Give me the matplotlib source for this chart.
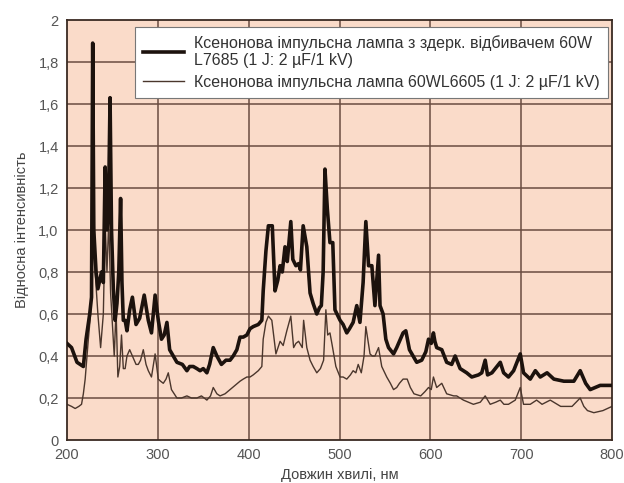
import numpy as np
import matplotlib
matplotlib.use('Agg')
import matplotlib.pyplot as plt
from matplotlib.ticker import FuncFormatter

# lamp with reflector (thick line)
wl_reflector = [200, 205, 211, 218, 221, 225, 227, 228.3, 229.5, 232, 234, 236, 238, 240,
                242, 244, 245.5, 247.4, 249, 251, 253, 255, 257, 259, 260.5, 262, 264,
                266, 269, 272, 276, 280, 285, 289.5, 293, 297, 300.5, 304, 307, 310, 313,
                317, 321, 327, 332, 335, 339, 343, 346.5, 350, 354, 357, 361, 365, 370,
                375, 379.5, 383, 387, 390.5, 394, 398, 401.5, 405, 410.6, 414.5, 416, 419,
                421.7, 426, 429, 432, 434.6, 437, 440, 442.5, 446.4, 448.6, 452, 455, 457,
                460, 464, 467.6, 471, 475, 478, 480, 482, 484, 486.6, 489.5, 492.6, 495,
                500.6, 504, 508, 511, 515, 519, 522.5, 526, 529, 532, 535.6, 539, 543,
                544.6, 548, 551, 554, 559.5, 563, 567, 570, 573, 577, 581, 585, 590.5, 595,
                598, 601, 603.4, 605, 607, 612.6, 618, 623.5, 627.3, 632.8, 640, 645.6, 653,
                656.6, 660.4, 663, 667.8, 673.3, 677, 680.7, 686, 691.7, 699, 702.6, 710,
                715.6, 721, 728.5, 736, 747, 758, 765, 771, 776, 787, 800]
int_reflector = [0.46, 0.44, 0.37, 0.35, 0.48, 0.60, 0.68, 1.89, 1.00, 0.80, 0.72, 0.76, 0.80,
                 0.75, 1.30, 1.00, 1.05, 1.63, 1.00, 0.72, 0.57, 0.65, 0.80, 1.15, 0.75,
                 0.57, 0.57, 0.52, 0.62, 0.68, 0.55, 0.58, 0.69, 0.57, 0.51, 0.69, 0.57,
                 0.48, 0.50, 0.56, 0.43, 0.40, 0.37, 0.36, 0.33, 0.35, 0.35, 0.34, 0.33,
                 0.34, 0.32, 0.36, 0.44, 0.40, 0.36, 0.38, 0.38, 0.40, 0.43, 0.49, 0.49,
                 0.50, 0.53, 0.54, 0.55, 0.57, 0.71, 0.90, 1.02, 1.02, 0.71, 0.76, 0.83,
                 0.80, 0.92, 0.85, 1.04, 0.86, 0.83, 0.84, 0.81, 1.02, 0.92, 0.70, 0.65,
                 0.60, 0.63, 0.64, 0.80, 1.29, 1.10, 0.94, 0.94, 0.62, 0.57, 0.55, 0.51,
                 0.53, 0.56, 0.64, 0.56, 0.75, 1.04, 0.83, 0.83, 0.64, 0.88, 0.64, 0.60,
                 0.48, 0.44, 0.41, 0.44, 0.48, 0.51, 0.52, 0.43, 0.40, 0.37, 0.38, 0.42,
                 0.48, 0.46, 0.51, 0.47, 0.44, 0.43, 0.37, 0.36, 0.40, 0.34, 0.32, 0.30,
                 0.31, 0.32, 0.38, 0.31, 0.32, 0.35, 0.37, 0.32, 0.30, 0.33, 0.41, 0.32,
                 0.29, 0.33, 0.30, 0.32, 0.29, 0.28, 0.28, 0.33, 0.27, 0.24, 0.26, 0.26]

# plain lamp (thin line)
wl_plain = [200, 205, 209, 213, 216, 218, 220, 223.5, 226, 229, 231, 234, 237, 240, 242, 244,
            246, 248, 250, 252, 254, 256, 258, 260, 262, 264, 266, 269, 273, 276, 278.5,
            281, 284, 287, 289.5, 293, 297, 300.5, 303, 306, 309, 311.5, 315, 318, 321,
            326, 332, 337, 343, 348, 354, 358, 361, 365, 368.5, 374, 379.5, 385, 390.5,
            394, 398, 401.5, 405, 410.6, 414.5, 416, 419, 421.7, 425.5, 430, 434.6, 438,
            442, 446.4, 449.5, 452, 455, 459, 460.5, 464, 467.6, 471, 475, 479, 482.5, 485,
            487, 489.5, 492, 496, 500.6, 504, 508, 512, 515, 518, 520.6, 524, 527, 529,
            533.6, 536, 539, 543, 546.5, 552, 556, 559.5, 563, 566, 570, 574.5, 578, 582,
            589.4, 594, 598, 601, 603.4, 607, 612.6, 618, 625.7, 629, 636.4, 642, 647.4,
            655, 660.4, 665.9, 672, 677, 681, 686, 693.5, 699, 702.6, 710, 717, 723, 732,
            743.5, 756, 765, 769, 773, 780, 790, 800]
int_plain = [0.17, 0.16, 0.15, 0.16, 0.17, 0.22, 0.29, 0.48, 0.60, 1.28, 0.80, 0.60, 0.44,
             0.60, 1.03, 0.80, 1.05, 0.70, 0.55, 0.40, 0.62, 0.30, 0.35, 0.50, 0.34, 0.34,
             0.40, 0.43, 0.39, 0.36, 0.36, 0.38, 0.43, 0.36, 0.33, 0.30, 0.41, 0.29, 0.28,
             0.27, 0.29, 0.32, 0.24, 0.22, 0.20, 0.20, 0.21, 0.20, 0.20, 0.21, 0.19, 0.21,
             0.25, 0.22, 0.21, 0.22, 0.24, 0.26, 0.28, 0.29, 0.30, 0.30, 0.31, 0.33, 0.35,
             0.48, 0.56, 0.59, 0.57, 0.41, 0.47, 0.45, 0.52, 0.59, 0.44, 0.46, 0.47, 0.44,
             0.57, 0.44, 0.38, 0.35, 0.32, 0.34, 0.38, 0.62, 0.50, 0.51, 0.45, 0.35, 0.30,
             0.30, 0.29, 0.31, 0.33, 0.32, 0.36, 0.32, 0.40, 0.54, 0.41, 0.40, 0.40, 0.44,
             0.35, 0.30, 0.27, 0.24, 0.25, 0.27, 0.29, 0.29, 0.25, 0.22, 0.21, 0.23, 0.25,
             0.24, 0.30, 0.25, 0.27, 0.22, 0.21, 0.21, 0.19, 0.18, 0.17, 0.18, 0.21, 0.17,
             0.18, 0.19, 0.17, 0.17, 0.19, 0.25, 0.17, 0.17, 0.19, 0.17, 0.19, 0.16, 0.16,
             0.20, 0.16, 0.14, 0.13, 0.14, 0.16]

label_reflector = 'Ксенонова імпульсна лампа з здерк. відбивачем 60W\nL7685 (1 J: 2 µF/1 kV)'
label_plain = 'Ксенонова імпульсна лампа 60WL6605 (1 J: 2 µF/1 kV)'

x_ticks = [200, 300, 400, 500, 600, 700, 800]
y_ticks = [0, 0.2, 0.4, 0.6, 0.8, 1.0, 1.2, 1.4, 1.6, 1.8, 2.0]


def y_fmt(v, pos):
    if abs(v) < 1e-9:
        return '0'
    if abs(v - 2) < 1e-9:
        return '2'
    return '{:.1f}'.format(v).replace('.', ',')


plt.rcParams['font.family'] = ['Liberation Sans', 'DejaVu Sans']

fig = plt.figure(figsize=(6.24, 4.83), dpi=100)
ax = fig.add_axes([67 / 624, 43 / 483, 545 / 624, 420 / 483])
ax.set_facecolor('#fadbc9')

grid_col = '#6a4c40'
for xv in x_ticks[1:-1]:
    ax.axvline(xv, color=grid_col, lw=1.1, zorder=1)
for yv in y_ticks[1:-1]:
    ax.axhline(yv, color=grid_col, lw=1.1, zorder=1)

ax.plot(wl_reflector, int_reflector, color='#1c120d', lw=2.6, zorder=3,
        label=label_reflector, solid_joinstyle='round')
ax.plot(wl_plain, int_plain, color='#4a362c', lw=1.0, zorder=2, label=label_plain)

ax.set_xlim(200, 800)
ax.set_ylim(0, 2)
ax.set_xticks(x_ticks)
ax.set_yticks(y_ticks)
ax.yaxis.set_major_formatter(FuncFormatter(y_fmt))
ax.tick_params(length=0, pad=6, labelsize=10.5, labelcolor='#555555')

for s in ax.spines.values():
    s.set_color('#3a2a22')
    s.set_linewidth(1.3)

ax.set_xlabel('Довжин хвилі, нм', fontsize=10.5, color='#444444', labelpad=4)
ax.set_ylabel('Відносна інтенсивність', fontsize=10.5, color='#444444', labelpad=7)

leg = ax.legend(loc='upper right', bbox_to_anchor=(0.992, 0.983), fontsize=11.5,
                frameon=True, fancybox=False, framealpha=1, edgecolor='#777777',
                borderaxespad=0, handlelength=2.6, labelspacing=0.4, borderpad=0.5,
                handletextpad=0.6)
leg.get_frame().set_linewidth(0.8)
for t in leg.get_texts():
    t.set_color('#333333')

fig.savefig('out.png', dpi=100)
